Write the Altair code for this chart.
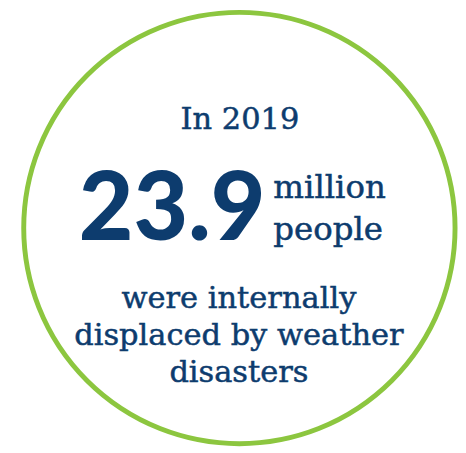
import altair as alt
import pandas as pd

# ---- content ----
year_label = ["In 2019"]
headline_value = ["23.9"]
unit_lines = ["million", "people"]
caption_lines = ["were internally", "displaced by weather", "disasters"]

# ---- layout (chart pixel coordinates) ----
W, H = 458, 445
NAVY = "#0d3c6e"
GREEN = "#8cc63f"
SERIF = "DejaVu Serif"

circle_pos = {"x": [235.5], "y": [220]}
year_pos = {"x": [236], "y": [119]}
value_pos = {"x": [262], "y": [232]}
unit_pos = {"x": [270, 270], "y": [189, 232]}
caption_pos = {"x": [235, 235, 235], "y": [301, 339, 377]}

xs = alt.Scale(domain=[0, W], range=[0, W])
ys = alt.Scale(domain=[0, H], range=[0, H])


def base(texts, pos):
    df = pd.DataFrame({"t": texts, "x": pos["x"], "y": pos["y"]})
    return alt.Chart(df).encode(
        x=alt.X("x:Q", scale=xs, axis=None),
        y=alt.Y("y:Q", scale=ys, axis=None),
    )


ring = alt.Chart(pd.DataFrame(circle_pos)).mark_point(
    shape="circle", filled=False, size=439 ** 2, strokeWidth=5,
    color=GREEN, opacity=1,
).encode(
    x=alt.X("x:Q", scale=xs, axis=None),
    y=alt.Y("y:Q", scale=ys, axis=None),
)

serif_style = dict(font=SERIF, color=NAVY, stroke=NAVY, strokeWidth=0.5,
                   baseline="alphabetic")

year = base(year_label, year_pos).mark_text(
    fontSize=31, align="center", **serif_style
).encode(text="t:N")

value = base(headline_value, value_pos).mark_text(
    font="Lato", fontSize=96, fontWeight=900, color=NAVY, align="right",
    baseline="alphabetic"
).encode(text="t:N")

units = base(unit_lines, unit_pos).mark_text(
    fontSize=33, align="left", **serif_style
).encode(text="t:N")

caption = base(caption_lines, caption_pos).mark_text(
    fontSize=31, align="center", **serif_style
).encode(text="t:N")

chart = alt.layer(ring, year, value, units, caption).properties(
    width=W, height=H, padding=0,
    autosize=alt.AutoSizeParams(type="none"),
    background="white",
).configure_view(stroke=None)

chart.save("out.html", embed_options={"renderer": "svg", "actions": False})
